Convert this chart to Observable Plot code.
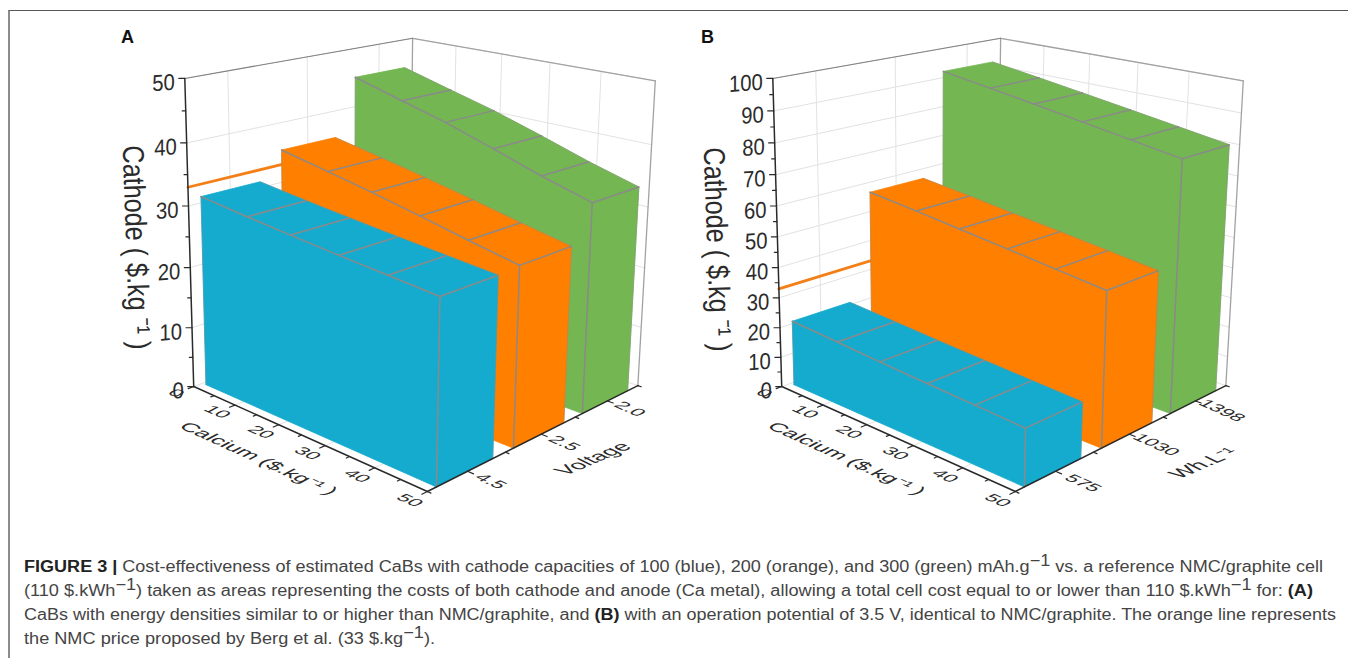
<!DOCTYPE html>
<html><head><meta charset="utf-8">
<script src="https://cdn.jsdelivr.net/npm/d3@7"></script>
<script src="https://cdn.jsdelivr.net/npm/@observablehq/plot@0.6"></script>
<style>
html,body{margin:0;padding:0;background:#fff;width:1348px;height:658px;overflow:hidden}
#wrap{position:relative;width:1348px;height:658px}
#frame{position:absolute;left:8px;top:10px;right:0;bottom:0;border-top:1.5px solid #555;border-left:2px solid #8c8c8c}
#chart{position:absolute;left:0;top:0}
#caption{position:absolute;left:24px;top:555px;font:16px/24px "Liberation Sans",Arial,sans-serif;color:#444}
#caption div{white-space:nowrap;transform-origin:0 50%;width:max-content}
#caption sup{font-size:1.0em;line-height:0;vertical-align:0.36em}
#caption b{color:#222}
</style></head><body>
<div id="wrap"><div id="frame"></div><div id="chart"></div>
<div id="caption">
<div data-right="1323"><b>FIGURE 3 |</b> Cost-effectiveness of estimated CaBs with cathode capacities of 100 (blue), 200 (orange), and 300 (green) mAh.g<sup>−1</sup> vs. a reference NMC/graphite cell</div>
<div data-right="1313">(110 $.kWh<sup>−1</sup>) taken as areas representing the costs of both cathode and anode (Ca metal), allowing a total cell cost equal to or lower than 110 $.kWh<sup>−1</sup> for: <b>(A)</b></div>
<div data-right="1336">CaBs with energy densities similar to or higher than NMC/graphite, and <b>(B)</b> with an operation potential of 3.5 V, identical to NMC/graphite. The orange line represents</div>
<div data-right="435">the NMC price proposed by Berg et al. (33 $.kg<sup>−1</sup>).</div>
</div></div>
<script>
// ---------- data ----------
const calciumTicks = [0, 10, 20, 30, 40, 50];
const calcium = [0.8, 11.5, 21, 31, 40.5, 50];
const voltageLabels = ["4.5", "2.5", "2.0"];
const energyLabels = ["575", "1030", "1398"];
const seriesColors = ["#14ABCE", "#FF7F00", "#74B652"];
const cathodeA100 = [31.3, 30.4, 29.7, 29, 28.4, 27.8];
const cathodeA200 = [35.7, 34.2, 32.8, 31.2, 29.6, 28.1];
const cathodeA300 = [45.3, 43, 41, 38.5, 36, 33.8];
const cathodeB100 = [21.6, 20.7, 19.8, 19, 18.3, 17.6];
const cathodeB200 = [57.2, 55.5, 53.8, 52.1, 50.4, 48.7];
const cathodeB300 = [92.6, 90.2, 88, 85.6, 83.3, 81];
const nmcPrice = 33;
const zMaxA = 50, zMaxB = 100;
const panelShift = 588;

// ---------- perspective camera, fitted to the picture's axis ticks ----------
const cameraAnchors = [
 [0,0,0,195,385],[1,0,0,428,490],[1,1,0,637,385],[0,0,1,184,77],[0,1,1,412,37],[1,1,1,655,80],
 [.2,0,0,233,405],[.4,0,0,277,425],[.6,0,0,323,445],[.8,0,0,373,467],
 [1,1/6,0,468,471],[1,.5,0,542,433],[1,5/6,0,607,401],
 [0,0,.2,192,328],[0,0,.4,190,268],[0,0,.6,188,206],[0,0,.8,187,142],
 [0,1/6,1,227,72],[0,.5,1,307,55],[0,5/6,1,379,43],
 [.2,1,1,455,46],[.4,1,1,501,54],[.6,1,1,550,62],[.8,1,1,600,72]];
function fitCamera(pts){
  const rows=[],rhs=[];
  for(const [X,Y,Z,px,py] of pts){const u=px/1000,v=py/1000;
    rows.push([X,Y,Z,1,0,0,0,0,-u*X,-u*Y,-u*Z]);rhs.push(u);
    rows.push([0,0,0,0,X,Y,Z,1,-v*X,-v*Y,-v*Z]);rhs.push(v);}
  const n=11,M=Array.from({length:n},()=>new Array(n+1).fill(0));
  rows.forEach((r,k)=>{for(let i=0;i<n;i++){for(let j=0;j<n;j++)M[i][j]+=r[i]*r[j];M[i][n]+=r[i]*rhs[k];}});
  for(let i=0;i<n;i++){let p=i;for(let k=i+1;k<n;k++)if(Math.abs(M[k][i])>Math.abs(M[p][i]))p=k;
    [M[i],M[p]]=[M[p],M[i]];
    for(let k=0;k<n;k++){if(k===i)continue;const f=M[k][i]/M[i][i];for(let j=i;j<=n;j++)M[k][j]-=f*M[i][j];}}
  return M.map((r,i)=>r[n]/r[i]);
}
const cam=fitCamera(cameraAnchors);
function project(X,Y,Z){const w=cam[8]*X+cam[9]*Y+cam[10]*Z+1;
  return [1000*(cam[0]*X+cam[1]*Y+cam[2]*Z+cam[3])/w,1000*(cam[4]*X+cam[5]*Y+cam[6]*Z+cam[7])/w];}

const W=1348,H=540;
const marks=[];
function polyMark(pts,opts){marks.push(Plot.line(pts,{x:"x",y:"y",z:"id",curve:"linear",...opts}));}

function panel(shift,zMax,zStep,cats,vals,o){
  const pt=(c,k,z,id)=>{const [x,y]=project(c/50,(k-.5)/3,z/zMax);return {x:x+shift,y:y,id};};
  const seg=(list,opts)=>{const rows=[];list.forEach((pair,i)=>pair.forEach(p=>rows.push({...p,id:i})));polyMark(rows,opts);};
  const kTicks=[1,2,3], zTicks=d3.range(0,zMax+1,zStep);
  // grids
  const grid=[];
  for(const z of zTicks){ if(z===0)continue;
    grid.push([pt(0,.5,z),pt(0,3.5,z)]);grid.push([pt(0,3.5,z),pt(50,3.5,z)]);}
  for(const c of calciumTicks){ if(c===0||c===50)continue;
    grid.push([pt(c,3.5,0),pt(c,3.5,zMax)]);grid.push([pt(c,.5,0),pt(c,3.5,0)]);}
  for(const k of kTicks){grid.push([pt(0,k,0),pt(0,k,zMax)]);grid.push([pt(0,k,0),pt(50,k,0)]);}
  grid.push([pt(0,.5,0),pt(0,3.5,0)],[pt(0,3.5,0),pt(50,3.5,0)]);
  seg(grid,{stroke:"#e2e2e2",strokeWidth:1});
  // light frame
  seg([[pt(0,3.5,0),pt(0,3.5,zMax)],[pt(0,3.5,zMax),pt(50,3.5,zMax)],[pt(50,3.5,zMax),pt(50,3.5,0)]],{stroke:"#a2a2a2",strokeWidth:1.3});
  seg([[pt(0,.5,zMax),pt(0,3.5,zMax)]],{stroke:"#808080",strokeWidth:1.1});
  // price line on the left wall
  seg([[pt(0,.5,nmcPrice),pt(0,3.5,nmcPrice)]],{stroke:"#F57F17",strokeWidth:2.8});
  // bars back to front
  [2,1,0].forEach(s=>{
    const k=s+1,y0=k-.39,y1=k+.33,v=vals[s],color=seriesColors[s],c0=calcium[0];
    const rows=[];
    const add=(id,list)=>{list.forEach(p=>rows.push({...p,id}));};
    const front=[pt(c0,y0,0)];calcium.forEach((c,i)=>front.push(pt(c,y0,v[i])));front.push(pt(50,y0,0),pt(c0,y0,0));
    add("front",front);
    add("end",[pt(50,y0,0),pt(50,y0,v[5]),pt(50,y1,v[5]),pt(50,y1,0),pt(50,y0,0)]);
    calcium.slice(1).forEach((c,i)=>add("top"+i,[pt(calcium[i],y0,v[i]),pt(c,y0,v[i+1]),pt(c,y1,v[i+1]),pt(calcium[i],y1,v[i]),pt(calcium[i],y0,v[i])]));
    polyMark(rows,{fill:color,stroke:color,strokeWidth:.8});
    const edges=[];
    edges.push(calcium.map((c,i)=>pt(c,y0,v[i])));
    calcium.forEach((c,i)=>{if(i>0)edges.push([pt(c,y0,v[i]),pt(c,y1,v[i])]);});
    edges.push([pt(50,y0,0),pt(50,y0,v[5])]);
    seg(edges,{stroke:"#8a8a8a",strokeWidth:1.5});
    seg([[pt(c0,y0,0),pt(c0,y0,v[0])],[pt(50,y1,0),pt(50,y1,v[5])],calcium.map((c,i)=>pt(c,y1,v[i]))],{stroke:"#8a8a8a",strokeWidth:.7,strokeOpacity:.6});
  });
  // axes
  seg([[pt(0,.5,0),pt(0,.5,zMax)],[pt(0,.5,0),pt(50,.5,0)],[pt(50,.5,0),pt(50,3.5,0)]],{stroke:"#2a2a2a",strokeWidth:1.5});
  const ticks=[];
  d3.range(0,zMax+1,5).forEach(z=>{const a=pt(0,.5,z),b={...a,x:a.x-(z%10===0?6:3.5)};ticks.push([a,b]);});
  d3.range(0,51,5).forEach(c=>{const len=c%10===0?.022:.013;ticks.push([pt(c,.5,0),pt(c,.5-3*len,0)]);});
  [.5,1,1.5,2,2.5,3,3.5].forEach((k,i)=>{const len=i%2?.022:.013;ticks.push([pt(50,k,0),pt(50+50*len,k,0)]);});
  seg(ticks,{stroke:"#2a2a2a",strokeWidth:1.2});
  // tick labels
  const lab=(rows,cls,opts)=>marks.push(Plot.text(rows,{x:"x",y:"y",text:"t",fontFamily:"Liberation Sans",fill:"#2b2b2b",className:cls,...opts}));
  lab(zTicks.map(z=>({...pt(0,.5,z),t:String(z)})),"lbl-z",{textAnchor:"end",dx:-10,dy:4,fontSize:23});
  lab(calciumTicks.map(c=>({...pt(c,.5-.07*3,0),t:String(c)})),"lbl-floor",{fontSize:20});
  lab(kTicks.map((k,i)=>{const p=pt(50+50*o.catOff,k,0);return {...p,t:cats[i]};}),"lbl-floor",{fontSize:20});
  // axis titles
  const ct=pt(50*.525,.5-.19*3,0);
  lab([{...ct,t:"Calcium ($.kg⁻¹ )"}],"lbl-floor-title",{fontSize:21.5});
  const vt=pt(50*o.vtX,o.vtY*3+.5,0);
  lab([{...vt,t:o.zTitleV}],"lbl-floor-right",{fontSize:22});
  const zt=pt(0,.5,zMax*.45);
  lab([{x:zt.x+o.cdx,y:247+o.cdy,t:"Cathode ( $.kg ⁻¹ )"}],"lbl-cathode",{fontSize:30});
  lab([{x:shift+127+o.ldx,y:37,t:o.letter}],"lbl-letter",{fontSize:18,fontWeight:700,fill:"#111"});
}
panel(0,zMaxA,10,voltageLabels,[cathodeA100,cathodeA200,cathodeA300],{catOff:.085,vtX:1.205,vtY:.477,zTitleV:"Voltage",cdx:-54,cdy:0,letter:"A",ldx:0});
panel(panelShift,zMaxB,10,energyLabels,[cathodeB100,cathodeB200,cathodeB300],{catOff:.10,vtX:1.2675,vtY:.5,zTitleV:"Wh.L⁻¹",cdx:-61,cdy:2,letter:"B",ldx:-8});

const svg=Plot.plot({width:W,height:H,margin:0,style:{background:"transparent",overflow:"visible"},
  x:{domain:[0,W],range:[0,W],axis:null},y:{domain:[0,H],range:[0,H],axis:null},marks});
const skew=(cls,m)=>d3.select(svg).selectAll("."+cls+" text").each(function(){this.setAttribute("transform",this.getAttribute("transform")+" "+m);});
skew("lbl-z","matrix(.88,-.06,0,1,0,0)");
skew("lbl-floor","matrix(.91,.41,-.72,.38,0,0)");
skew("lbl-floor-title","matrix(.95,.43,-.74,.4,0,0)");
skew("lbl-floor-right","matrix(.92,-.39,.85,.42,0,0)");
skew("lbl-cathode","rotate(88) scale(.84,1)");
document.getElementById("chart").appendChild(svg);
// fit caption lines to the reference's line ends
document.querySelectorAll("#caption div").forEach(d=>{const w=d.getBoundingClientRect().width;d.style.transform=`scaleX(${(+d.dataset.right-24)/w})`;});
</script></body></html>
